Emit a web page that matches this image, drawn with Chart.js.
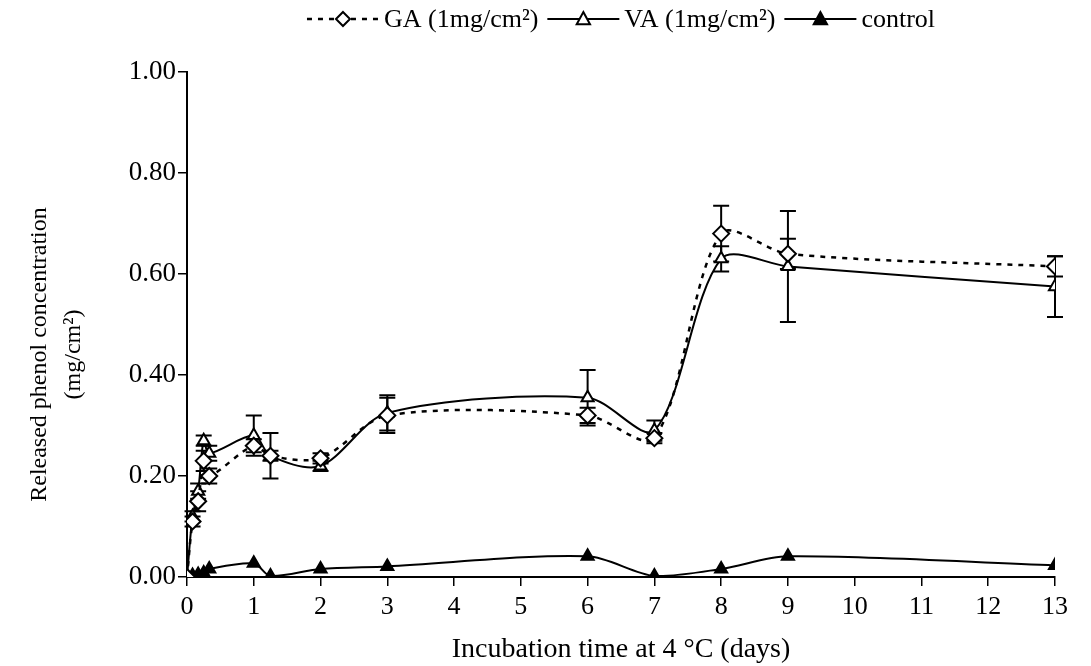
<!DOCTYPE html>
<html>
<head>
<meta charset="utf-8">
<script src="https://cdn.jsdelivr.net/npm/chart.js@4"></script>
<style>
  html, body { margin: 0; padding: 0; background: #fff; }
  #wrap { width: 1091px; height: 666px; }
</style>
</head>
<body>
<div id="wrap"><canvas id="chart" width="1091" height="666"></canvas></div>
<script>
// incubation times (days) and released phenol (mg/cm2)
const days = [0, 0.083, 0.167, 0.25, 0.333, 1, 1.25, 2, 3, 6, 7, 8, 9, 13];
const gaValues = [0, 0.11, 0.15, 0.23, 0.20, 0.26, 0.24, 0.235, 0.32, 0.32, 0.275, 0.68, 0.64, 0.615];
const vaValues = [0, 0.12, 0.17, 0.27, 0.245, 0.28, 0.24, 0.22, 0.325, 0.355, 0.29, 0.63, 0.615, 0.575];
const controlValues = [0, 0.003, 0.005, 0.008, 0.016, 0.027, 0.002, 0.016, 0.021, 0.041, 0.002, 0.016, 0.041, 0.023];
const gaErr = [0, 0.01, 0.02, 0.02, 0.015, 0.013, 0.01, 0.01, 0.035, 0.015, 0.01, 0.055, 0.03, 0.02];
const vaErr = [0, 0.01, 0.015, 0.01, 0.015, 0.04, 0.045, 0.01, 0.035, 0.055, 0.02, 0.025, 0.11, 0.06];
const legendLabels = ['GA (1mg/cm²)', 'VA (1mg/cm²)', 'control'];

const FONT = "'Liberation Serif', 'Times New Roman', serif";
const toXY = vals => vals.map((v, i) => ({ x: days[i], y: v }));
// trailing spaces push the rotated y title a little below the axis centre
const pad = '          ';

// vertical error bars, drawn under the markers
const errorBars = {
    id: 'errorBars',
    beforeDatasetsDraw(chart) {
        const { ctx, scales: { x, y } } = chart;
        ctx.save();
        ctx.strokeStyle = '#000';
        ctx.lineWidth = 2;
        chart.data.datasets.forEach(ds => {
            if (!ds.errors) return;
            ds.data.forEach((p, i) => {
                const e = ds.errors[i];
                if (!e) return;
                const px = x.getPixelForValue(p.x);
                const top = y.getPixelForValue(p.y + e);
                const bot = y.getPixelForValue(p.y - e);
                ctx.beginPath();
                ctx.moveTo(px, top); ctx.lineTo(px, bot);
                ctx.moveTo(px - 8, top); ctx.lineTo(px + 8, top);
                ctx.moveTo(px - 8, bot); ctx.lineTo(px + 8, bot);
                ctx.stroke();
            });
        });
        ctx.restore();
    }
};

function drawMarker(ctx, style, fill, cx, cy, r) {
    ctx.beginPath();
    if (style === 'rectRot') {
        ctx.moveTo(cx, cy - r); ctx.lineTo(cx + r, cy);
        ctx.lineTo(cx, cy + r); ctx.lineTo(cx - r, cy);
    } else {
        ctx.moveTo(cx, cy - r); ctx.lineTo(cx + r * 0.95, cy + r * 0.75);
        ctx.lineTo(cx - r * 0.95, cy + r * 0.75);
    }
    ctx.closePath();
    ctx.fillStyle = fill;
    ctx.fill();
    ctx.stroke();
}

// Excel style legend: line sample with marker, then text
const lineLegend = {
    id: 'lineLegend',
    afterDraw(chart) {
        const { ctx, chartArea } = chart;
        ctx.save();
        ctx.font = '26px ' + FONT;
        ctx.textBaseline = 'middle';
        const lineLen = 72, gap = 5, itemGap = 9;
        const widths = chart.data.datasets.map(ds => lineLen + gap + ctx.measureText(ds.label).width);
        const total = widths.reduce((a, b) => a + b, 0) + itemGap * (widths.length - 1);
        let xPos = (chartArea.left + chartArea.right) / 2 - total / 2;
        const yPos = 19;
        chart.data.datasets.forEach((ds, i) => {
            ctx.strokeStyle = '#000';
            ctx.lineWidth = ds.borderWidth;
            ctx.setLineDash(ds.borderDash || []);
            ctx.beginPath();
            ctx.moveTo(xPos, yPos); ctx.lineTo(xPos + lineLen, yPos);
            ctx.stroke();
            ctx.setLineDash([]);
            ctx.lineWidth = 2;
            drawMarker(ctx, ds.pointStyle, ds.pointBackgroundColor, xPos + lineLen / 2, yPos, 7);
            ctx.fillStyle = '#000';
            ctx.fillText(ds.label, xPos + lineLen + gap, yPos + 1);
            xPos += widths[i] + itemGap;
        });
        ctx.restore();
    }
};

const markerBase = { pointRadius: 7, pointHoverRadius: 7, pointBorderWidth: 2, pointBorderColor: '#000' };

new Chart(document.getElementById('chart'), {
    type: 'line',
    data: {
        datasets: [
            {
                label: legendLabels[0],
                data: toXY(gaValues),
                errors: gaErr,
                borderColor: '#000',
                borderWidth: 2.5,
                borderDash: [5, 6],
                tension: 0.3,
                pointStyle: 'rectRot',
                pointBackgroundColor: '#fff',
                ...markerBase,
                pointRadius: 8,
                pointHoverRadius: 8
            },
            {
                label: legendLabels[1],
                data: toXY(vaValues),
                errors: vaErr,
                borderColor: '#000',
                borderWidth: 2,
                tension: 0.3,
                pointStyle: 'triangle',
                pointBackgroundColor: '#fff',
                ...markerBase
            },
            {
                label: legendLabels[2],
                data: toXY(controlValues),
                borderColor: '#000',
                borderWidth: 2,
                tension: 0.3,
                pointStyle: 'triangle',
                pointBackgroundColor: '#000',
                ...markerBase
            }
        ]
    },
    options: {
        responsive: false,
        animation: false,
        layout: { padding: { top: 72, right: 36, left: 0, bottom: 0 } },
        plugins: {
            legend: { display: false },
            tooltip: { enabled: false }
        },
        scales: {
            x: {
                type: 'linear',
                min: 0,
                max: 13,
                ticks: { stepSize: 1, color: '#000', font: { family: FONT, size: 26 }, padding: 6 },
                grid: { drawOnChartArea: false, drawTicks: true, tickLength: 9, color: '#000', lineWidth: 1.5 },
                border: { color: '#000', width: 2 },
                title: {
                    display: true,
                    text: 'Incubation time at 4 °C (days)',
                    color: '#000',
                    font: { family: FONT, size: 28 },
                    padding: { top: 10, bottom: 0 }
                },
                afterFit: s => { s.height = 89; }
            },
            y: {
                min: 0,
                max: 1,
                ticks: {
                    stepSize: 0.2,
                    color: '#000',
                    font: { family: FONT, size: 27 },
                    padding: 2,
                    callback: v => v.toFixed(2)
                },
                grid: { drawOnChartArea: false, drawTicks: true, tickLength: 9, color: '#000', lineWidth: 1.5 },
                border: { color: '#000', width: 2 },
                title: {
                    display: true,
                    text: ['Released phenol concentration' + pad, '(mg/cm²)' + pad],
                    color: '#000',
                    font: { family: FONT, size: 24, lineHeight: 1.45 },
                    padding: { top: 22, bottom: 10 }
                },
                afterFit: s => { s.width = 187; }
            }
        }
    },
    plugins: [errorBars, lineLegend]
});
</script>
</body>
</html>
